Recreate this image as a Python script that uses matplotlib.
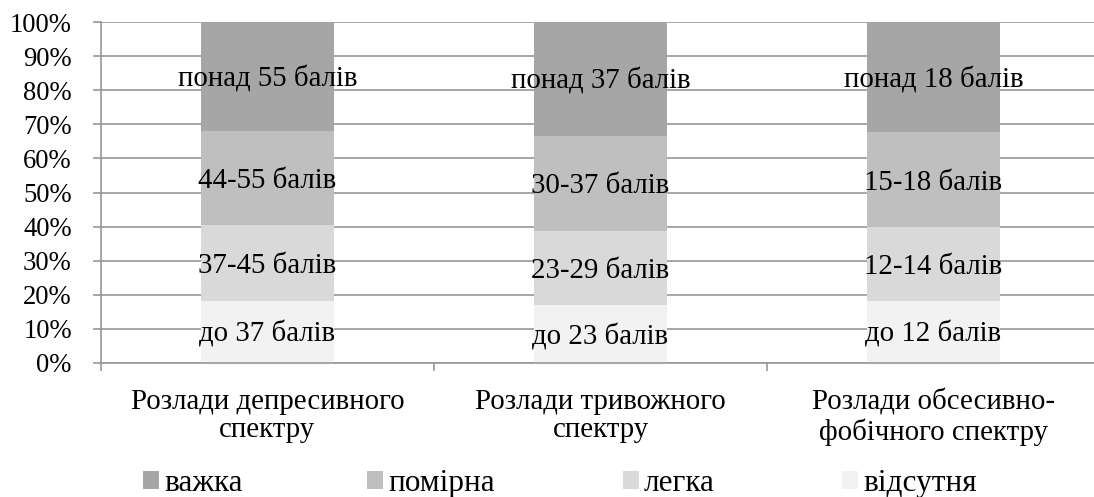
import matplotlib
matplotlib.use("Agg")
import matplotlib.pyplot as plt
from matplotlib.patches import Patch
from matplotlib.ticker import MultipleLocator, PercentFormatter
import numpy as np

plt.rcParams['font.family'] = ['Liberation Serif', 'DejaVu Serif']

categories = ["Розлади депресивного\nспектру",
              "Розлади тривожного\nспектру",
              "Розлади обсесивно-\nфобічного спектру"]

# share of respondents (%) per severity level, bottom to top
absent = [18.2, 17.0, 18.3]
mild = [22.3, 21.8, 21.6]
moderate = [27.5, 27.8, 27.8]
severe = [32.0, 33.4, 32.3]

series_names = ["відсутня", "легка", "помірна", "важка"]
series_values = [absent, mild, moderate, severe]
series_colors = ["#f2f2f2", "#d9d9d9", "#bfbfbf", "#a6a6a6"]

segment_labels = [
    ["до 37 балів", "до 23 балів", "до 12 балів"],
    ["37-45 балів", "23-29 балів", "12-14 балів"],
    ["44-55 балів", "30-37 балів", "15-18 балів"],
    ["понад 55 балів", "понад 37 балів", "понад 18 балів"],
]

legend_order = ["важка", "помірна", "легка", "відсутня"]

W, H = 1094, 497
fig = plt.figure(figsize=(W / 100, H / 100), dpi=100)
ax = fig.add_axes([101 / W, (H - 363) / H, 999 / W, 341 / H])

GRID = '#979797'
fs_tick = 19.2
fs_label = 20.8
fs_legend = 22.5

x = np.arange(len(categories)) + 0.5
bottom = np.zeros(len(categories))
for name, vals, col, labs in zip(series_names, series_values, series_colors, segment_labels):
    vals = np.array(vals)
    ax.bar(x, vals, 0.4, bottom=bottom, color=col, label=name, zorder=2)
    for xi, b, v, lab in zip(x, bottom, vals, labs):
        ax.annotate(lab, (xi, b + v / 2), xytext=(0, -7.2), textcoords='offset points',
                    ha='center', va='baseline', fontsize=fs_label, color='black',
                    zorder=3)
    bottom += vals

ax.set_xlim(0, 3)
ax.set_ylim(0, 100)
ax.yaxis.set_major_locator(MultipleLocator(10))
ax.yaxis.set_major_formatter(PercentFormatter(decimals=0))
ax.grid(axis='y', color=GRID, linewidth=1.2, zorder=1)
ax.set_axisbelow(True)

ax.set_xticks([0, 1, 2, 3])
ax.set_xticklabels([])
ax.set_xticks(x, minor=True)
ax.set_xticklabels(categories, minor=True, fontsize=fs_label, linespacing=1.13)
ax.tick_params(axis='x', which='minor', length=0, pad=18.4)
ax.tick_params(axis='x', which='major', length=6, color=GRID, width=1.2)
ax.tick_params(axis='y', length=6, color=GRID, width=1.2, labelsize=fs_tick, pad=15)

for side in ['top', 'right']:
    ax.spines[side].set_visible(False)
for side in ['left', 'bottom']:
    ax.spines[side].set_color(GRID)
    ax.spines[side].set_linewidth(1.2)

color_of = dict(zip(series_names, series_colors))
legend_x = [143, 367, 623, 842]
for name, lx in zip(legend_order, legend_x):
    fig.legend(handles=[Patch(facecolor=color_of[name], edgecolor='none', label=name)],
               loc='center left', bbox_to_anchor=(lx / W, 1 - 483.5 / H),
               frameon=False, fontsize=fs_legend, handlelength=0.51, handleheight=0.5,
               handletextpad=0.16, borderpad=0, borderaxespad=0)

fig.savefig("out.png", dpi=100)
